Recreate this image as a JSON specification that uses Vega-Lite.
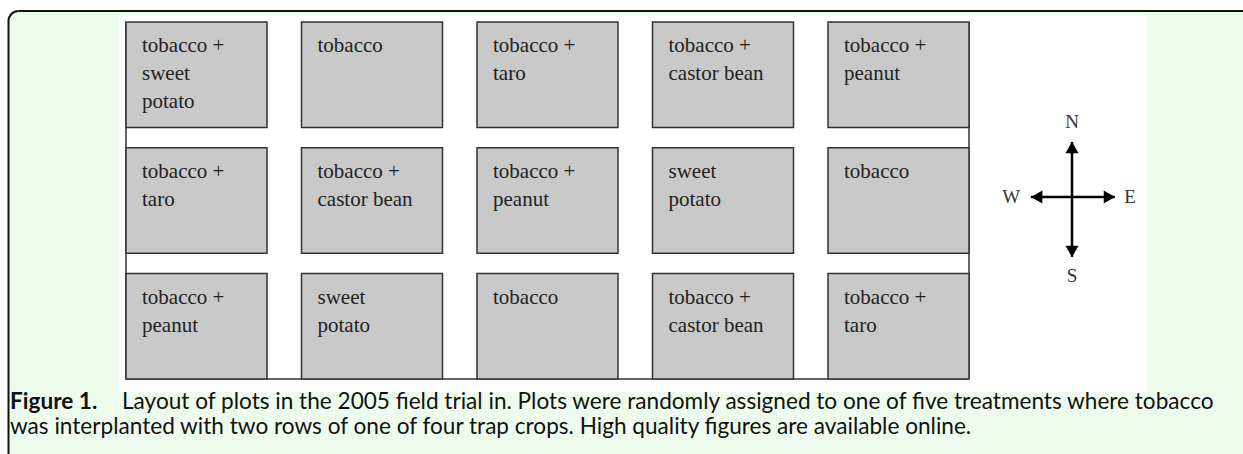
{
  "$schema": "https://vega.github.io/schema/vega-lite/v6.json",
  "width": 1243,
  "height": 454,
  "autosize": {"type": "none"},
  "padding": 0,
  "background": "white",
  "config": {"view": {"stroke": null}},
  "datasets": {
    "frame": [{"x": 8.5, "x2": 1700, "y": 11, "y2": 700}],
    "frameEdges": [
      {"side": "top", "x": 18.5, "x2": 1700, "y": 11, "y2": 11},
      {"side": "left", "x": 8.5, "x2": 8.5, "y": 21, "y2": 700}
    ],
    "frameCorner": [{"x": 18.5, "y": 21}],
    "image": [{"x": 119, "x2": 1147, "y": 15, "y2": 392}],
    "edges": [
      {"side": "left", "x": 126, "x2": 126, "y": 22, "y2": 379},
      {"side": "right", "x": 969, "x2": 969, "y": 22, "y2": 379},
      {"side": "bottom", "x": 126, "x2": 969, "y": 379, "y2": 379}
    ],
    "captionBold": [{"text": "Figure 1.", "x": 10, "y": 409}],
    "captionText": [
      {"text": "Layout of plots in the 2005 field trial in. Plots were randomly assigned to one of five treatments where tobacco", "x": 122, "y": 409},
      {"text": "was interplanted with two rows of one of four trap crops. High quality figures are available online.", "x": 10, "y": 434}
    ],
    "plots": [
      {"row": 1, "col": 1, "label": "tobacco +\nsweet\npotato"},
      {"row": 1, "col": 2, "label": "tobacco"},
      {"row": 1, "col": 3, "label": "tobacco +\ntaro"},
      {"row": 1, "col": 4, "label": "tobacco +\ncastor bean"},
      {"row": 1, "col": 5, "label": "tobacco +\npeanut"},
      {"row": 2, "col": 1, "label": "tobacco +\ntaro"},
      {"row": 2, "col": 2, "label": "tobacco +\ncastor bean"},
      {"row": 2, "col": 3, "label": "tobacco +\npeanut"},
      {"row": 2, "col": 4, "label": "sweet\npotato"},
      {"row": 2, "col": 5, "label": "tobacco"},
      {"row": 3, "col": 1, "label": "tobacco +\npeanut"},
      {"row": 3, "col": 2, "label": "sweet\npotato"},
      {"row": 3, "col": 3, "label": "tobacco"},
      {"row": 3, "col": 4, "label": "tobacco +\ncastor bean"},
      {"row": 3, "col": 5, "label": "tobacco +\ntaro"}
    ],
    "arms": [
      {"dir": "N", "x": 0, "y": 0, "x2": 0, "y2": 1},
      {"dir": "S", "x": 0, "y": 0, "x2": 0, "y2": -1.09},
      {"dir": "E", "x": 0, "y": 0, "x2": 1.02, "y2": 0},
      {"dir": "W", "x": 0, "y": 0, "x2": -0.98, "y2": 0}
    ],
    "heads": [
      {"dir": "N", "x": 0, "y": 0.9},
      {"dir": "S", "x": 0, "y": -0.99},
      {"dir": "E", "x": 0.89, "y": 0},
      {"dir": "W", "x": -0.84, "y": 0}
    ],
    "letters": [
      {"dir": "N", "x": 0, "y": 1.36},
      {"dir": "S", "x": 0, "y": -1.44},
      {"dir": "W", "x": -1.45, "y": 0},
      {"dir": "E", "x": 1.38, "y": 0}
    ]
  },
  "layer": [
    {
      "layer": [
        {
          "data": {"name": "frame"},
          "mark": {"type": "rect", "fill": "#eefcee", "strokeWidth": 0, "cornerRadiusTopLeft": 10, "clip": true},
          "encoding": {
            "x": {"field": "x", "type": "quantitative", "scale": {"domain": [0, 1243], "range": [0, 1243], "nice": false, "zero": false}, "axis": null},
            "x2": {"field": "x2"},
            "y": {"field": "y", "type": "quantitative", "scale": {"domain": [0, 454], "range": [0, 454], "nice": false, "zero": false}, "axis": null},
            "y2": {"field": "y2"}
          }
        },
        {
          "data": {"name": "frameEdges"},
          "mark": {"type": "rule", "stroke": "#111111", "strokeWidth": 2, "clip": true},
          "encoding": {
            "x": {"field": "x", "type": "quantitative", "axis": null},
            "x2": {"field": "x2"},
            "y": {"field": "y", "type": "quantitative", "axis": null},
            "y2": {"field": "y2"}
          }
        },
        {
          "data": {"name": "frameCorner"},
          "mark": {"type": "arc", "innerRadius": 9, "outerRadius": 11, "theta": 4.7124, "theta2": 6.2832, "fill": "#111111", "strokeWidth": 0},
          "encoding": {
            "x": {"field": "x", "type": "quantitative", "axis": null},
            "y": {"field": "y", "type": "quantitative", "axis": null}
          }
        },
        {
          "data": {"name": "image"},
          "mark": {"type": "rect", "fill": "white", "strokeWidth": 0},
          "encoding": {
            "x": {"field": "x", "type": "quantitative", "axis": null},
            "x2": {"field": "x2"},
            "y": {"field": "y", "type": "quantitative", "axis": null},
            "y2": {"field": "y2"}
          }
        },
        {
          "data": {"name": "edges"},
          "mark": {"type": "rule", "stroke": "#333333", "strokeWidth": 1.5},
          "encoding": {
            "x": {"field": "x", "type": "quantitative", "axis": null},
            "x2": {"field": "x2"},
            "y": {"field": "y", "type": "quantitative", "axis": null},
            "y2": {"field": "y2"}
          }
        },
        {
          "data": {"name": "captionBold"},
          "mark": {"type": "text", "font": "Lato", "fontSize": 22.6, "fontWeight": "bold", "align": "left", "baseline": "alphabetic", "fill": "#111111"},
          "encoding": {
            "x": {"field": "x", "type": "quantitative", "axis": null},
            "y": {"field": "y", "type": "quantitative", "axis": null},
            "text": {"field": "text"}
          }
        },
        {
          "data": {"name": "captionText"},
          "mark": {"type": "text", "font": "Lato", "fontSize": 22.6, "align": "left", "baseline": "alphabetic", "fill": "#111111"},
          "encoding": {
            "x": {"field": "x", "type": "quantitative", "axis": null},
            "y": {"field": "y", "type": "quantitative", "axis": null},
            "text": {"field": "text"}
          }
        }
      ]
    },
    {
      "data": {"name": "plots"},
      "layer": [
        {
          "mark": {"type": "rect", "fill": "#c9c9c9", "stroke": "#333333", "strokeWidth": 1.5},
          "encoding": {
            "x": {"field": "col", "type": "ordinal", "scale": {"range": [126, 969], "paddingInner": 0.1966, "paddingOuter": 0}, "axis": null},
            "y": {"field": "row", "type": "ordinal", "scale": {"range": [22, 379], "paddingInner": 0.162, "paddingOuter": 0}, "axis": null}
          }
        },
        {
          "mark": {"type": "text", "font": "Liberation Serif", "fontSize": 21, "align": "left", "baseline": "alphabetic", "lineBreak": "\n", "lineHeight": 28, "dx": 16, "dy": 30, "fill": "#222222"},
          "encoding": {
            "x": {"field": "col", "type": "ordinal", "bandPosition": 0, "axis": null},
            "y": {"field": "row", "type": "ordinal", "bandPosition": 0, "axis": null},
            "text": {"field": "label"}
          }
        }
      ]
    },
    {
      "layer": [
        {
          "data": {"name": "arms"},
          "mark": {"type": "rule", "stroke": "black", "strokeWidth": 2.5},
          "encoding": {
            "x": {"field": "x", "type": "quantitative", "scale": {"domain": [-1, 1], "range": [1030, 1114], "nice": false, "zero": false}, "axis": null},
            "x2": {"field": "x2"},
            "y": {"field": "y", "type": "quantitative", "scale": {"domain": [-1, 1], "range": [252, 142], "nice": false, "zero": false}, "axis": null},
            "y2": {"field": "y2"}
          }
        },
        {
          "data": {"name": "heads"},
          "mark": {"type": "point", "filled": true, "size": 170, "color": "black", "opacity": 1},
          "encoding": {
            "x": {"field": "x", "type": "quantitative", "axis": null},
            "y": {"field": "y", "type": "quantitative", "axis": null},
            "shape": {"field": "dir", "type": "nominal", "scale": {"domain": ["N", "E", "S", "W"], "range": ["triangle-up", "triangle-right", "triangle-down", "triangle-left"]}, "legend": null}
          }
        },
        {
          "data": {"name": "letters"},
          "mark": {"type": "text", "font": "Liberation Serif", "fontSize": 19, "align": "center", "baseline": "middle", "fill": "#333333"},
          "encoding": {
            "x": {"field": "x", "type": "quantitative", "axis": null},
            "y": {"field": "y", "type": "quantitative", "axis": null},
            "text": {"field": "dir"}
          }
        }
      ]
    }
  ],
  "resolve": {"scale": {"x": "independent", "y": "independent"}}
}
